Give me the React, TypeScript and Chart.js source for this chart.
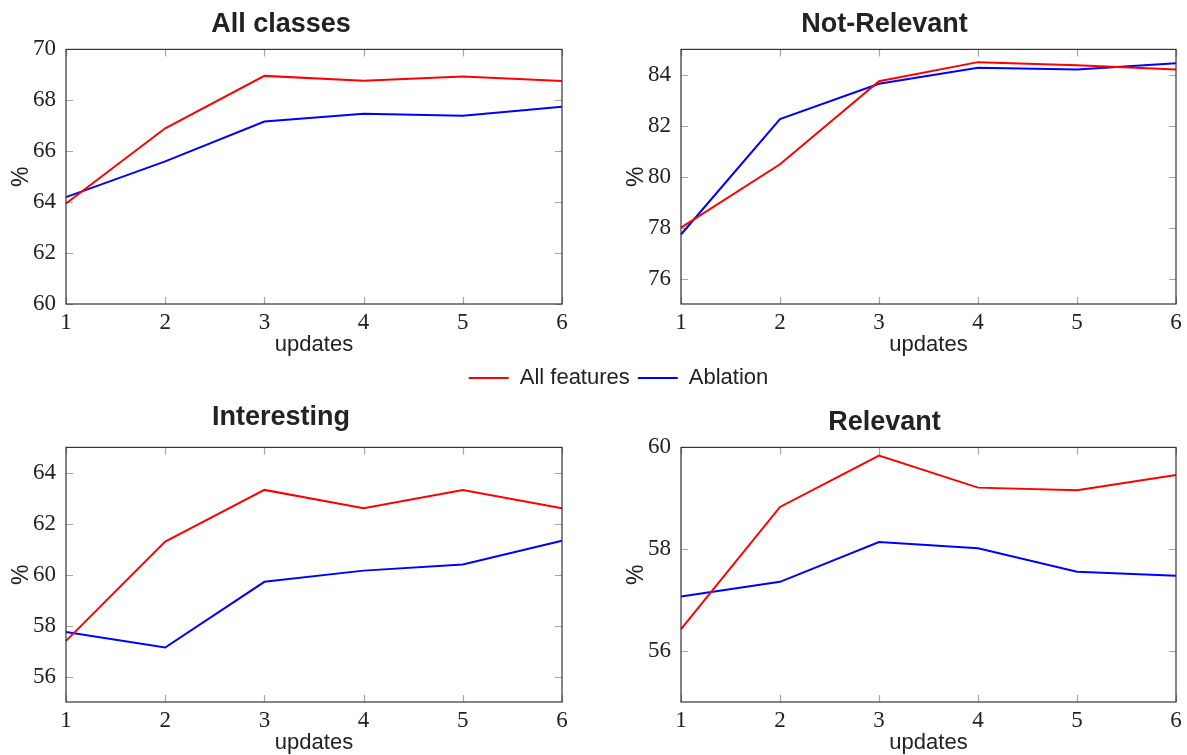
import React, { useEffect, useRef } from "react";
import { Chart, registerables } from "chart.js";

Chart.register(...registerables);

// ---------- data ----------
const updates = ["1", "2", "3", "4", "5", "6"];
const seriesNames = ["All features", "Ablation"];
const seriesColors = ["#ff0000", "#0000ff"];

const allClassesFull = [63.95, 66.9, 68.96, 68.77, 68.94, 68.76];
const allClassesAbl = [64.2, 65.6, 67.17, 67.47, 67.39, 67.75];
const allClassesTicks = [60, 62, 64, 66, 68, 70];

const notRelevantFull = [78.0, 80.49, 83.75, 84.5, 84.38, 84.21];
const notRelevantAbl = [77.73, 82.26, 83.65, 84.28, 84.21, 84.46];
const notRelevantTicks = [76, 78, 80, 82, 84];

const interestingFull = [57.4, 61.3, 63.33, 62.61, 63.33, 62.61];
const interestingAbl = [57.75, 57.14, 59.72, 60.16, 60.4, 61.33];
const interestingTicks = [56, 58, 60, 62, 64];

const relevantFull = [56.43, 58.83, 59.84, 59.21, 59.16, 59.46];
const relevantAbl = [57.07, 57.36, 58.14, 58.02, 57.56, 57.48];
const relevantTicks = [56, 58, 60];

// ---------- styling ----------
const SANS = "'Liberation Sans', Arial, sans-serif";
const SERIF = "'Liberation Serif', 'DejaVu Serif', serif";
const TEXT = "#222222";

const framePlugin = {
  id: "frame",
  beforeDatasetsDraw(chart: any) {
    const { ctx, chartArea, scales } = chart;
    const { left, right, top, bottom } = chartArea;
    const x = scales.x;
    const y = scales.y;
    ctx.save();
    ctx.strokeStyle = "#a6a6a6";
    ctx.lineWidth = 1.2;
    const len = 7;
    ctx.beginPath();
    x.ticks.forEach((_t: any, i: number) => {
      const px = Math.round(x.getPixelForTick(i)) + 0.5;
      ctx.moveTo(px, bottom);
      ctx.lineTo(px, bottom - len);
      ctx.moveTo(px, top);
      ctx.lineTo(px, top + len);
    });
    y.ticks.forEach((t: any) => {
      const py = Math.round(y.getPixelForValue(t.value)) + 0.5;
      ctx.moveTo(left, py);
      ctx.lineTo(left + len, py);
      ctx.moveTo(right, py);
      ctx.lineTo(right - len, py);
    });
    ctx.stroke();
    ctx.restore();
  },
  afterDatasetsDraw(chart: any) {
    const { ctx, chartArea } = chart;
    const { left, right, top, bottom } = chartArea;
    ctx.save();
    ctx.strokeStyle = "#333333";
    ctx.lineWidth = 1.2;
    ctx.strokeRect(left, top, right - left, bottom - top);
    ctx.restore();
  },
};

type PanelProps = {
  title: string;
  full: number[];
  abl: number[];
  yMin: number;
  yMax: number;
  yTicks: number[];
  left: number;
  top: number;
  width: number;
  height: number;
  yAxisWidth: number;
  padRight: number;
  titlePadTop: number;
  titlePadBottom: number;
  pctPad: number;
};

function Panel(p: PanelProps) {
  const ref = useRef<HTMLCanvasElement>(null);
  useEffect(() => {
    if (!ref.current) return;
    const chart = new Chart(ref.current, {
      type: "line",
      data: {
        labels: updates,
        datasets: [p.full, p.abl].map((d, i) => ({
          label: seriesNames[i],
          data: d,
          borderColor: seriesColors[i],
          backgroundColor: seriesColors[i],
          borderWidth: 2,
          pointRadius: 0,
          tension: 0,
          fill: false,
        })),
      },
      options: {
        animation: false,
        responsive: false,
        maintainAspectRatio: false,
        events: [],
        layout: { padding: { left: 0, right: p.padRight, top: 0, bottom: 0 } },
        plugins: {
          legend: { display: false },
          tooltip: { enabled: false },
          title: {
            display: true,
            text: p.title,
            color: TEXT,
            font: { family: SANS, size: 27, weight: "bold", lineHeight: 1.2 },
            padding: { top: p.titlePadTop, bottom: p.titlePadBottom },
          },
        },
        scales: {
          x: {
            type: "category",
            offset: false,
            grid: { display: false, drawTicks: false },
            border: { display: false },
            ticks: {
              color: TEXT,
              font: { family: SERIF, size: 23 },
              padding: 5,
              maxRotation: 0,
              autoSkip: false,
            },
            title: {
              display: true,
              text: "updates",
              color: TEXT,
              font: { family: SANS, size: 22, lineHeight: 1.2 },
              padding: { top: 0, bottom: 6 },
            },
            afterFit: (s: any) => {
              s.height = 60;
            },
          },
          y: {
            type: "linear",
            min: p.yMin,
            max: p.yMax,
            grid: { display: false, drawTicks: false },
            border: { display: false },
            ticks: {
              color: TEXT,
              font: { family: SERIF, size: 23 },
              padding: 10,
            },
            afterBuildTicks: (s: any) => {
              s.ticks = p.yTicks.map((v) => ({ value: v }));
            },
            title: {
              display: true,
              text: "%",
              color: TEXT,
              font: { family: SANS, size: 23, lineHeight: 1.2 },
              padding: { top: p.pctPad, bottom: 0 },
            },
            afterFit: (s: any) => {
              s.width = p.yAxisWidth;
            },
          },
        },
      },
      plugins: [framePlugin],
    } as any);
    return () => chart.destroy();
  }, []);
  return (
    <canvas
      ref={ref}
      width={p.width}
      height={p.height}
      style={{
        position: "absolute",
        left: p.left,
        top: p.top,
        width: p.width,
        height: p.height,
      }}
    />
  );
}

function Legend() {
  const ref = useRef<HTMLCanvasElement>(null);
  useEffect(() => {
    if (!ref.current) return;
    const chart = new Chart(ref.current, {
      type: "line",
      data: {
        labels: [],
        datasets: seriesNames.map((n, i) => ({
          label: n,
          data: [],
          borderColor: seriesColors[i],
          backgroundColor: seriesColors[i],
          borderWidth: 2,
        })),
      },
      options: {
        animation: false,
        responsive: false,
        maintainAspectRatio: false,
        events: [],
        layout: { padding: { left: 50, right: 0, top: 0, bottom: 0 } },
        scales: { x: { display: false }, y: { display: false } },
        plugins: {
          tooltip: { enabled: false },
          title: { display: false },
          legend: {
            display: true,
            position: "top",
            maxHeight: 60,
            labels: {
              usePointStyle: true,
              pointStyle: "line",
              pointStyleWidth: 40,
              color: TEXT,
              font: { family: SANS, size: 22 },
              padding: 8,
            },
          },
        },
      },
    } as any);
    return () => chart.destroy();
  }, []);
  return (
    <canvas
      ref={ref}
      width={1187}
      height={60}
      style={{ position: "absolute", left: 0, top: 359, width: 1187, height: 60 }}
    />
  );
}

export default function App() {
  return (
    <div
      style={{
        position: "fixed",
        left: 0,
        top: 0,
        width: 1187,
        height: 755,
        overflow: "hidden",
        background: "#ffffff",
      }}
    >
      <Legend />
      <Panel
        title="All classes"
        full={allClassesFull}
        abl={allClassesAbl}
        yMin={60}
        yMax={70}
        yTicks={allClassesTicks}
        left={0}
        top={0}
        width={593}
        height={364}
        yAxisWidth={66}
        padRight={31}
        titlePadTop={8}
        titlePadBottom={9}
        pctPad={8}
      />
      <Panel
        title="Not-Relevant"
        full={notRelevantFull}
        abl={notRelevantAbl}
        yMin={75}
        yMax={85}
        yTicks={notRelevantTicks}
        left={593}
        top={0}
        width={594}
        height={364}
        yAxisWidth={88}
        padRight={11}
        titlePadTop={8}
        titlePadBottom={9}
        pctPad={30}
      />
      <Panel
        title="Interesting"
        full={interestingFull}
        abl={interestingAbl}
        yMin={55}
        yMax={65}
        yTicks={interestingTicks}
        left={0}
        top={390}
        width={593}
        height={372}
        yAxisWidth={66}
        padRight={31}
        titlePadTop={11}
        titlePadBottom={14}
        pctPad={8}
      />
      <Panel
        title="Relevant"
        full={relevantFull}
        abl={relevantAbl}
        yMin={55}
        yMax={60}
        yTicks={relevantTicks}
        left={593}
        top={390}
        width={594}
        height={372}
        yAxisWidth={88}
        padRight={11}
        titlePadTop={16}
        titlePadBottom={9}
        pctPad={30}
      />
    </div>
  );
}
